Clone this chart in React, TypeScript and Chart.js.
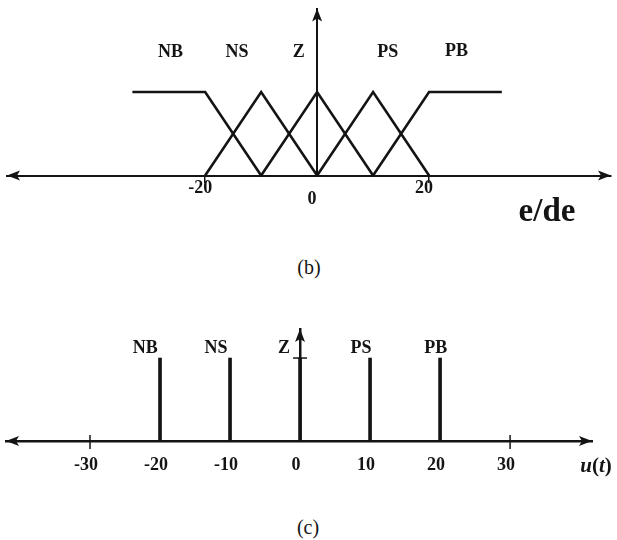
import React, { useEffect, useRef } from "react";
import { Chart, registerables } from "chart.js";

Chart.register(...registerables);

const INK = "#141414";
const SERIF = '"Liberation Serif", "Times New Roman", serif';

// Linguistic terms shared by the input and output sets
const terms = ["NB", "NS", "Z", "PS", "PB"];

// Input membership functions on e/de (breakpoints and membership degrees)
const nbX = [-33, -20, -10];
const nbMu = [1, 1, 0];
const nsX = [-20, -10, 0];
const nsMu = [0, 1, 0];
const zX = [-10, 0, 10];
const zMu = [0, 1, 0];
const psX = [0, 10, 20];
const psMu = [0, 1, 0];
const pbX = [10, 20, 33];
const pbMu = [0, 1, 1];
const inputX = [nbX, nsX, zX, psX, pbX];
const inputMu = [nbMu, nsMu, zMu, psMu, pbMu];
const inputTicks = [-20, 0, 20];
// where each term name sits (value on e/de, membership degree)
const inputLabelX = [-26.2, -14.3, -3.3, 12.6, 24.9];
const inputLabelMu = [1.47, 1.47, 1.47, 1.47, 1.49];

// Output singletons on u(t)
const outputX = [-20, -10, 0, 10, 20];
const outputMu = [1, 1, 1, 1, 1];
const outputTicks = [-30, -20, -10, 0, 10, 20, 30];
const outputLabelX = [-22.1, -12, -2.3, 8.7, 19.4];
const outputLabelMu = [1.12, 1.12, 1.12, 1.12, 1.12];
const outputMarks = [1];

const termFont = `bold 18px ${SERIF}`;

function arrowHead(ctx: CanvasRenderingContext2D, x: number, y: number, dir: "l" | "r" | "u") {
  const len = 13;
  const half = 5;
  const notch = 3;
  ctx.beginPath();
  if (dir === "l") {
    ctx.moveTo(x, y);
    ctx.lineTo(x + len, y - half);
    ctx.lineTo(x + len - notch, y);
    ctx.lineTo(x + len, y + half);
  } else if (dir === "r") {
    ctx.moveTo(x, y);
    ctx.lineTo(x - len, y - half);
    ctx.lineTo(x - len + notch, y);
    ctx.lineTo(x - len, y + half);
  } else {
    ctx.moveTo(x, y);
    ctx.lineTo(x - half, y + len);
    ctx.lineTo(x, y + len - notch);
    ctx.lineTo(x + half, y + len);
  }
  ctx.closePath();
  ctx.fill();
}

// Arrowheads on both ends of the horizontal axis and the top of the vertical axis
const axisArrows = {
  id: "axisArrows",
  afterDraw(chart: any) {
    const { ctx, chartArea, scales } = chart;
    const y0 = scales.y.getPixelForValue(0);
    const x0 = scales.x.getPixelForValue(0);
    ctx.save();
    ctx.fillStyle = INK;
    arrowHead(ctx, chartArea.left, y0, "l");
    arrowHead(ctx, chartArea.right, y0, "r");
    arrowHead(ctx, x0, chartArea.top, "u");
    ctx.restore();
  },
};

// Term names placed at (value, degree) through the chart scales
const termNames = {
  id: "termNames",
  afterDatasetsDraw(chart: any, _args: any, opts: any) {
    const { ctx, scales } = chart;
    ctx.save();
    ctx.fillStyle = INK;
    ctx.font = termFont;
    ctx.textAlign = "center";
    ctx.textBaseline = "middle";
    opts.names.forEach((name: string, i: number) => {
      ctx.fillText(name, scales.x.getPixelForValue(opts.xs[i]), scales.y.getPixelForValue(opts.ys[i]));
    });
    ctx.restore();
  },
};

// Small marks crossing the axes at ticks that carry no singleton
const crossMarks = {
  id: "crossMarks",
  afterDatasetsDraw(chart: any, _args: any, opts: any) {
    const { ctx, scales } = chart;
    const y0 = scales.y.getPixelForValue(0);
    const x0 = scales.x.getPixelForValue(0);
    ctx.save();
    ctx.strokeStyle = INK;
    ctx.lineWidth = 1.5;
    scales.x.ticks.forEach((t: any) => {
      if (opts.skipX.includes(t.value)) return;
      const px = scales.x.getPixelForValue(t.value);
      ctx.beginPath();
      ctx.moveTo(px, y0 - 6);
      ctx.lineTo(px, y0 + 8);
      ctx.stroke();
    });
    scales.y.ticks.forEach((t: any) => {
      const py = scales.y.getPixelForValue(t.value);
      ctx.beginPath();
      ctx.moveTo(x0 - 7, py);
      ctx.lineTo(x0 + 7, py);
      ctx.stroke();
    });
    ctx.restore();
  },
};

const tickFont = { family: SERIF, size: 18, weight: "bold" as const, lineHeight: 0.6 };

function inputConfig(): any {
  return {
    type: "scatter",
    data: {
      datasets: terms.map((name, i) => ({
        label: name,
        data: inputX[i].map((x, j) => ({ x, y: inputMu[i][j] })),
        showLine: true,
        borderColor: INK,
        borderWidth: 2.6,
        borderJoinStyle: "miter",
        pointRadius: 0,
        clip: false,
      })),
    },
    options: {
      animation: false,
      responsive: false,
      events: [],
      layout: { padding: { left: 7, right: 6, top: 8.5, bottom: 74.5 } },
      plugins: {
        legend: { display: false },
        tooltip: { enabled: false },
        termNames: { names: terms, xs: inputLabelX, ys: inputLabelMu },
      },
      scales: {
        x: {
          type: "linear",
          position: { y: 0 },
          min: -55.4,
          max: 52.5,
          afterBuildTicks: (s: any) => {
            s.ticks = inputTicks.map((value) => ({ value }));
          },
          grid: {
            display: true,
            drawOnChartArea: false,
            drawTicks: true,
            tickLength: 6,
            lineWidth: 1.5,
            color: (c: any) => (c.tick && c.tick.value === 0 ? "rgba(0,0,0,0)" : INK),
          },
          border: { display: true, color: INK, width: 2 },
          ticks: {
            autoSkip: false,
            maxRotation: 0,
            padding: 1.5,
            labelOffset: -5,
            color: INK,
            font: tickFont,
            callback: (v: number) => (v === 0 ? ["", "0"] : String(v)),
          },
        },
        y: {
          type: "linear",
          position: { x: 0 },
          min: 0,
          max: 2,
          grid: { display: false, drawTicks: false },
          border: { display: true, color: INK, width: 2 },
          ticks: { display: false },
        },
      },
    },
    plugins: [axisArrows, termNames],
  };
}

function outputConfig(): any {
  return {
    type: "bar",
    data: {
      datasets: [
        {
          label: "u",
          data: outputX.map((x, i) => ({ x, y: outputMu[i] })),
          backgroundColor: INK,
          borderWidth: 0,
          barThickness: 3,
        },
      ],
    },
    options: {
      animation: false,
      responsive: false,
      events: [],
      layout: { padding: { left: 6, right: 25, top: 39, bottom: 49 } },
      plugins: {
        legend: { display: false },
        tooltip: { enabled: false },
        termNames: { names: terms, xs: outputLabelX, ys: outputLabelMu },
        crossMarks: { skipX: outputX },
      },
      scales: {
        x: {
          type: "linear",
          offset: false,
          position: { y: 0 },
          min: -42,
          max: 41.7,
          afterBuildTicks: (s: any) => {
            s.ticks = outputTicks.map((value) => ({ value }));
          },
          grid: { display: false, drawTicks: false, offset: false },
          border: { display: true, color: INK, width: 2.5 },
          ticks: {
            autoSkip: false,
            maxRotation: 0,
            padding: 18.5,
            labelOffset: -4,
            color: INK,
            font: tickFont,
            callback: (v: number) => String(v),
          },
        },
        y: {
          type: "linear",
          position: { x: 0 },
          min: 0,
          max: 1.35,
          afterBuildTicks: (s: any) => {
            s.ticks = outputMarks.map((value) => ({ value }));
          },
          grid: { display: false, drawTicks: false },
          border: { display: true, color: INK, width: 2.5 },
          ticks: { display: false },
        },
      },
    },
    plugins: [axisArrows, termNames, crossMarks],
  };
}

function Txt(props: { x: number; y: number; size: number; bold?: boolean; children: React.ReactNode }) {
  return (
    <div
      style={{
        position: "absolute",
        left: props.x,
        top: props.y,
        transform: "translate(-50%, -50%)",
        fontSize: props.size,
        fontWeight: props.bold ? 700 : 400,
        lineHeight: 1,
        whiteSpace: "nowrap",
      }}
    >
      {props.children}
    </div>
  );
}

export default function App() {
  const inRef = useRef<HTMLCanvasElement>(null);
  const outRef = useRef<HTMLCanvasElement>(null);

  useEffect(() => {
    const a = new Chart(inRef.current as HTMLCanvasElement, inputConfig());
    const b = new Chart(outRef.current as HTMLCanvasElement, outputConfig());
    return () => {
      a.destroy();
      b.destroy();
    };
  }, []);

  return (
    <div
      style={{
        position: "absolute",
        left: 0,
        top: 0,
        width: 617,
        height: 540,
        background: "#fff",
        color: INK,
        fontFamily: SERIF,
        overflow: "hidden",
      }}
    >
      <canvas ref={inRef} width={617} height={250} style={{ position: "absolute", left: 0, top: 0 }} />
      <canvas ref={outRef} width={617} height={200} style={{ position: "absolute", left: 0, top: 290 }} />
      <Txt x={547} y={210} size={33} bold>
        e/de
      </Txt>
      <Txt x={309} y={267} size={20}>
        (b)
      </Txt>
      <Txt x={596} y={465} size={21} bold>
        <i>u</i>(<i>t</i>)
      </Txt>
      <Txt x={308} y={527} size={20}>
        (c)
      </Txt>
    </div>
  );
}
